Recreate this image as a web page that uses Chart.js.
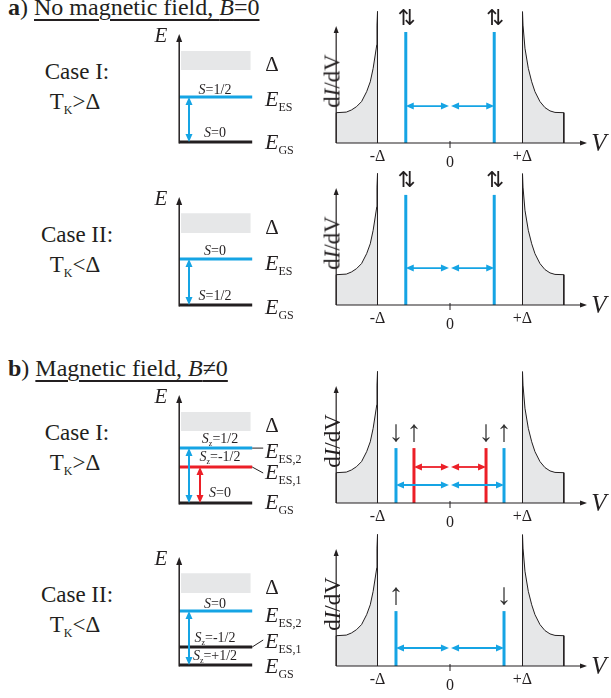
<!DOCTYPE html>
<html>
<head>
<meta charset="utf-8">
<script src="https://cdn.jsdelivr.net/npm/chart.js@4.4.1/dist/chart.umd.min.js"></script>
<style>
  body { margin: 0; background: #fff; }
  #page { position: relative; width: 611px; height: 698px; overflow: hidden;
          font-family: "Liberation Serif", "Times New Roman", serif; color: #231f20; }
  canvas { position: absolute; }
  .c { position: absolute; white-space: nowrap; line-height: 1; transform: translate(-50%, -50%); }
  .l { position: absolute; white-space: nowrap; line-height: 1; transform: translateY(-50%); }
  .hd { position: absolute; white-space: nowrap; line-height: 1; font-size: 24px; }
  .hd u { text-decoration-thickness: 1.6px; text-underline-offset: 4px; }
  .sb { font-size: 12px; position: relative; top: 5px; }
  .es { font-size: 12px; position: relative; top: 5px; }
  .z { font-size: 8px; position: relative; top: 3px; }
  .spin { font-family: "DejaVu Sans", sans-serif; }
</style>
</head>
<body>
<div id="page"></div>
<script>
// ---- data (V in units of Delta, dI/dV in units of the normal-state level) ----
const deltaTicks = [-1, 0, 1];
const deltaTickText = ['-Δ', '0', '+Δ'];

// coherence peaks
const leftPeakV = [-1.57, -1.57, -1.43, -1.36, -1.29, -1.22, -1.15, -1.10, -1.06, -1.01, -1.007, -1.0, -1.0];
const leftPeakG = [0, 1.01, 1.03, 1.10, 1.21, 1.38, 1.71, 2.04, 2.49, 3.27, 3.93, 4.38, 0];
const rightPeakV = [1.0, 1.0, 1.007, 1.034, 1.08, 1.127, 1.172, 1.241, 1.31, 1.379, 1.448, 1.57, 1.57];
const rightPeakG = [0, 4.38, 3.93, 3.16, 2.49, 2.04, 1.71, 1.38, 1.18, 1.07, 1.02, 1.01, 0];

// in-gap (YSR) resonances per panel: a-I, a-II, b-I, b-II
const blueLineV = [[-0.61, 0.61], [-0.61, 0.61], [-0.745, 0.745], [-0.745, 0.745]];
const redLineV = [[], [], [-0.497, 0.497], []];
const lineTopG = [3.7, 3.67, 1.83, 1.83];
const blueArrowG = [1.23, 1.23, 0.6, 0.6];
const redArrowG = [null, null, 1.2, null];
const spinV = [[-0.61, 0.61], [-0.61, 0.61], [-0.745, -0.497, 0.497, 0.745], [-0.745, 0.745]];
const spinText = [['⇅', '⇅'], ['⇅', '⇅'], ['↓', '↑', '↓', '↑'], ['↑', '↓']];
const spinG = [4.17, 4.17, 2.4, 2.4];

// energy level schemes (ground state = 0)
const gapLowE = [1.6, 1.6, 1.6, 1.6];
const gapHighE = [2.02, 2.04, 2.02, 2.04];
const groundE = [0, 0, 0, 0];
const blueLevelE = [1.0, 1.02, 1.22, 1.2];
const redLevelE = [null, null, 0.8, null];
const blackLevelE = [null, null, null, 0.4];

// ---- layout ----
const BLUE = '#15a4e4', RED = '#ec1f27', INK = '#231f20', GREY = '#e6e7e8';
const axisY = [143, 305, 503, 666];
const groundY = [142, 305, 503, 665];
const page = document.getElementById('page');

function makeCanvas(left, top, w, h) {
  const c = document.createElement('canvas');
  c.width = w; c.height = h;
  c.style.left = left + 'px'; c.style.top = top + 'px';
  c.style.width = w + 'px'; c.style.height = h + 'px';
  page.appendChild(c);
  return c;
}

function addText(html, x, y, style, cls) {
  const d = document.createElement('div');
  d.className = cls || 'c';
  d.innerHTML = html;
  d.style.left = x + 'px';
  d.style.top = y + 'px';
  if (style) d.style.cssText += style;
  page.appendChild(d);
  return d;
}

function baseOptions(xmin, xmax, ymin, ymax) {
  return {
    responsive: false,
    animation: false,
    devicePixelRatio: 1,
    layout: { padding: 0 },
    events: [],
    plugins: { legend: { display: false }, tooltip: { enabled: false } },
    elements: { point: { radius: 0 }, line: { tension: 0 } },
    scales: {
      x: { type: 'linear', min: xmin, max: xmax, display: false },
      y: { type: 'linear', min: ymin, max: ymax, display: false }
    }
  };
}

function head(ctx, x, y, ang, len, w) {
  ctx.beginPath();
  ctx.moveTo(x, y);
  ctx.lineTo(x - len * Math.cos(ang) + w / 2 * Math.sin(ang), y - len * Math.sin(ang) - w / 2 * Math.cos(ang));
  ctx.lineTo(x - len * Math.cos(ang) - w / 2 * Math.sin(ang), y - len * Math.sin(ang) + w / 2 * Math.cos(ang));
  ctx.closePath();
  ctx.fill();
}

function arrow(ctx, x1, y1, x2, y2, color, width, len, w, both) {
  const ang = Math.atan2(y2 - y1, x2 - x1);
  ctx.save();
  ctx.strokeStyle = color; ctx.fillStyle = color; ctx.lineWidth = width;
  const sx = both ? x1 + Math.cos(ang) * len * 0.7 : x1;
  const sy = both ? y1 + Math.sin(ang) * len * 0.7 : y1;
  ctx.beginPath();
  ctx.moveTo(sx, sy);
  ctx.lineTo(x2 - Math.cos(ang) * len * 0.7, y2 - Math.sin(ang) * len * 0.7);
  ctx.stroke();
  head(ctx, x2, y2, ang, len, w);
  if (both) head(ctx, x1, y1, ang + Math.PI, len, w);
  ctx.restore();
}

function pts(xs, ys) { return xs.map((v, k) => ({ x: v, y: ys[k] })); }

function spectrum(i) {
  const left = 305, top = axisY[i] - 135;
  const cv = makeCanvas(left, top, 290, 150);
  const peak = (v, g) => ({ data: pts(v, g), borderColor: INK, borderWidth: 1,
                            backgroundColor: GREY, fill: 'origin', clip: false });
  const vline = (v, col) => ({ data: [{ x: v, y: 0 }, { x: v, y: lineTopG[i] }],
                               borderColor: col, borderWidth: 3, borderCapStyle: 'butt', fill: false, clip: false });
  const ds = [peak(leftPeakV, leftPeakG), peak(rightPeakV, rightPeakG)];
  blueLineV[i].forEach(v => ds.push(vline(v, BLUE)));
  redLineV[i].forEach(v => ds.push(vline(v, RED)));

  const chart = new Chart(cv, {
    type: 'line',
    data: { datasets: ds },
    options: baseOptions(-2, 2, -0.5, 4.5),
    plugins: [{
      id: 'spec' + i,
      afterDatasetsDraw(c) {
        const ctx = c.ctx, X = v => c.scales.x.getPixelForValue(v), Y = g => c.scales.y.getPixelForValue(g);
        // axes
        arrow(ctx, X(-1.57), Y(0), X(-1.57), Y(3.9), INK, 1.2, 7, 5, false);
        arrow(ctx, X(-1.57), Y(0), X(1.89), Y(0), INK, 1.2, 7, 5, false);
        ctx.save();
        ctx.strokeStyle = INK; ctx.lineWidth = 1;
        ctx.beginPath(); ctx.moveTo(X(0), Y(0) - 2); ctx.lineTo(X(0), Y(0) + 5); ctx.stroke();
        ctx.restore();
        // double arrows between resonance and zero bias
        const pair = (vs, g, col) => vs.forEach(v => {
          const end = v < 0 ? -0.015 : 0.015;
          arrow(ctx, X(v), Y(g), X(end), Y(g), col, 1.8, 8, 7, true);
        });
        if (redArrowG[i] != null) pair(redLineV[i], redArrowG[i], RED);
        pair(blueLineV[i], blueArrowG[i], BLUE);
      }
    }]
  });

  const xs = chart.scales.x, ys = chart.scales.y;
  deltaTicks.forEach((v, k) =>
    addText(deltaTickText[k], left + xs.getPixelForValue(v), axisY[i] + (v === 0 ? 19 : 13), 'font-size:16px'));
  spinV[i].forEach((v, k) => {
    const two = spinText[i][k] === '⇅';
    addText(spinText[i][k], left + xs.getPixelForValue(v) + (two ? 1 : 0), top + ys.getPixelForValue(spinG[i]),
      two ? 'font-size:22px' : 'font-size:30px;color:#333', two ? 'c spin' : 'c');
  });
  addText('d<i>I</i>/dV', 332, axisY[i] - 62, 'font-size:23px;transform:translate(-50%,-50%) rotate(-90deg)');
  addText('<i>V</i>', 599, axisY[i] - 1, 'font-size:25px');
}

function levels(i, leaders) {
  const left = 150, top = groundY[i] - 117;
  const cv = makeCanvas(left, top, 146, 126);
  const level = (e, col) => ({ data: [{ x: 0, y: e }, { x: 1, y: e }], borderColor: col, borderWidth: 3,
                               borderCapStyle: 'butt', fill: false, clip: false });
  const ds = [{ data: [{ x: 0.025, y: gapHighE[i] }, { x: 0.98, y: gapHighE[i] }], borderWidth: 0,
                backgroundColor: GREY, fill: { value: gapLowE[i] } }];
  ds.push(level(groundE[i], INK));
  if (blackLevelE[i] != null) ds.push(level(blackLevelE[i], INK));
  if (redLevelE[i] != null) ds.push(level(redLevelE[i], RED));
  ds.push(level(blueLevelE[i], BLUE));

  new Chart(cv, {
    type: 'line',
    data: { datasets: ds },
    options: baseOptions(-0.4, 1.6, -0.2, 2.6),
    plugins: [{
      id: 'lev' + i,
      afterDatasetsDraw(c) {
        const ctx = c.ctx, X = v => c.scales.x.getPixelForValue(v), Y = g => c.scales.y.getPixelForValue(g);
        arrow(ctx, X(0), Y(groundE[i]) + 1.5, X(0), Y(2.4), INK, 1.5, 8, 6, false);
        arrow(ctx, X(0.134), Y(groundE[i]), X(0.134), Y(blueLevelE[i]), BLUE, 2, 8, 7, true);
        if (redLevelE[i] != null)
          arrow(ctx, X(0.285), Y(groundE[i]), X(0.285), Y(redLevelE[i]), RED, 2, 8, 7, true);
        ctx.save();
        ctx.strokeStyle = INK; ctx.lineWidth = 1;
        leaders.forEach(([e, dy]) => {
          ctx.beginPath(); ctx.moveTo(X(1), Y(e)); ctx.lineTo(X(1) + 11, Y(e) + dy); ctx.stroke();
        });
        ctx.restore();
      }
    }]
  });
}

// ---- headers ----
addText('<b>a</b>) <u>No magnetic field, <i>B</i>=0</u>', 8, -5, '', 'hd');
addText('<b>b</b>) <u>Magnetic field, <i>B</i>≠0</u>', 8, 356, '', 'hd');

// ---- rows ----
const caseText = [['Case I:', 'T<span class="sb">K</span>&gt;Δ'], ['Case II:', 'T<span class="sb">K</span>&lt;Δ'],
                  ['Case I:', 'T<span class="sb">K</span>&gt;Δ'], ['Case II:', 'T<span class="sb">K</span>&lt;Δ']];
const lvlLabels = [
  [['E<span class="es">ES</span>', -43], ['E<span class="es">GS</span>', 0]],
  [['E<span class="es">ES</span>', -42], ['E<span class="es">GS</span>', 2]],
  [['E<span class="es">ES,2</span>', -52], ['E<span class="es">ES,1</span>', -31], ['E<span class="es">GS</span>', -1]],
  [['E<span class="es">ES,2</span>', -50], ['E<span class="es">ES,1</span>', -24], ['E<span class="es">GS</span>', 1]]
];
const spinLabels = [
  [['<i>S</i>=1/2', -52], ['<i>S</i>=0', -9]],
  [['<i>S</i>=0', -54], ['<i>S</i>=1/2', -9]],
  [['<i>S</i><span class="z">z</span>=1/2', -64], ['<i>S</i><span class="z">z</span>=-1/2', -46], ['<i>S</i>=0', -10]],
  [['<i>S</i>=0', -61], ['<i>S</i><span class="z">z</span>=-1/2', -27], ['<i>S</i><span class="z">z</span>=+1/2', -9]]
];
const leaderSets = [[], [], [[blueLevelE[2], 0], [redLevelE[2], 6]], [[blackLevelE[3], -7]]];

for (let i = 0; i < 4; i++) {
  levels(i, leaderSets[i]);
  spectrum(i);
  const g = groundY[i];
  addText(caseText[i][0], 77, g - 71, 'font-size:23px');
  addText(caseText[i][1], 75, g - 41, 'font-size:23px');
  addText('<i>E</i>', 161, g - 107, 'font-size:21px');
  addText('Δ', 272, g - 78, 'font-size:21px');
  lvlLabels[i].forEach(([h, dy]) => addText(h.replace(/^E/, '<i>E</i>'), 265, g + dy, 'font-size:22px', 'l'));
  spinLabels[i].forEach(([h, dy]) => addText(h, i === 2 ? 220 : 215, g + dy, 'font-size:14px'));
}
</script>
</body>
</html>
